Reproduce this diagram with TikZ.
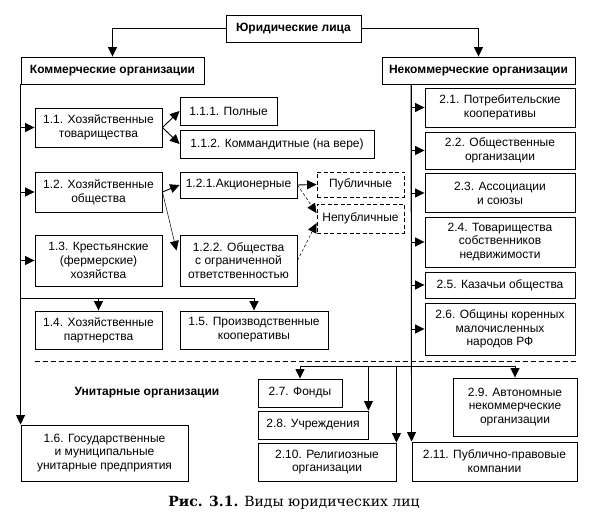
\documentclass[tikz,border=0pt]{standalone}
\usepackage{fontspec}
\setmainfont{Liberation Sans}
\newfontfamily\capfont{DejaVu Serif}
\usepgflibrary{arrows.meta}

\begin{document}
\begin{tikzpicture}[x=1pt,y=-1pt,line width=0.9pt,
  >={Triangle[length=9.5pt,width=9pt]},
  box/.style n args={2}{draw,align=center,inner sep=0pt,
    font=\fontsize{12}{13.8}\selectfont,minimum width=#1,minimum height=#2},
  head/.style n args={2}{box={#1}{#2},font=\bfseries\fontsize{12}{14}\selectfont},
  dbox/.style n args={2}{box={#1}{#2},dash pattern=on 4pt off 2.5pt},
  fine arrow/.style={->,line width=0.5pt},
  dash arrow/.style={->,line width=0.5pt,dash pattern=on 3pt off 2pt}]

\useasboundingbox (0,0) rectangle (595,526);

% top level
\node[head={135}{27}] (jur) at (293.5,28.5) {Юридические лица};
\node[head={183}{27}] (kom) at (112.5,70.5) {Коммерческие организации};
\node[head={193}{27}] (nekom) at (478.5,70.5) {Некоммерческие организации};
\draw[->] (jur.west) -| (kom.north);
\draw[->] (jur.east) -| (nekom.north);

% commercial
\foreach \nm/\cy/\h/\txt in {n11/127.5/39/{1.1. Хозяйственные\\товарищества},
  n12/192/40/{1.2. Хозяйственные\\общества},
  n13/260.5/51/{1.3. Крестьянские\\(фермерские)\\хозяйства}}{
  \node[box={127}{\h}] (\nm) at (98.5,\cy) {\txt};
  \draw[->] (kom.south west) |- (\nm.west);
}

\node[box={97}{28}] (n111) at (228.5,111) {1.1.1. Полные};
\node[box={194}{28}] (n112) at (277,144) {1.1.2. Коммандитные (на вере)};
\node[box={117}{26}] (n121) at (238.5,185) {1.2.1.Акционерные};
\node[box={117}{51}] (n122) at (238.5,260.5) {1.2.2. Общества\\с ограниченной\\ответственностью};
\node[dbox={87}{25}] (pub) at (360.5,184.5) {Публичные};
\node[dbox={87}{29}] (nepub) at (360.5,218.5) {Непубличные};

\draw[->] (n11.east) -- (n111.west);
\draw[->] (n11.east) -- (n112.west);
\draw[->] (n12.east) -- (n121.west);
\draw[fine arrow] (n12.east) -- ([shift={(-3,-10)}]n122.west);
\draw[->] (n121.east) -- (pub.west);
\draw[dash arrow] (n121.east) -- (nepub.173);
\draw[dash arrow] (n122.east) -- (nepub.186);

\node[box={127}{38}] (n14) at (98.5,330) {1.4. Хозяйственные\\партнерства};
\node[box={148}{38}] (n15) at (254,330) {1.5. Производственные\\кооперативы};
\coordinate (bar) at (kom.south west |- 0,298);
\draw[->] (bar) -| (n14.north);
\draw[->] (bar) -| (n15.north);

\node[box={167}{56}] (n16) at (104.5,453) {1.6. Государственные\\и муниципальные\\унитарные предприятия};
\draw[->] (kom.south west) -- (n16.north west);

% noncommercial
\coordinate (rtop) at (411,84);
\foreach \nm/\cy/\h/\txt in {n21/107.5/39/{2.1. Потребительские\\кооперативы},
  n22/150.5/37/{2.2. Общественные\\организации},
  n23/193/39/{2.3. Ассоциации\\и союзы},
  n24/242/50/{2.4. Товарищества\\собственников\\недвижимости},
  n25/285/26/{2.5. Казачьи общества},
  n26/329/52/{2.6. Общины коренных\\малочисленных\\народов РФ}}{
  \node[box={150}{\h}] (\nm) at (500,\cy) {\txt};
  \draw[->] (rtop) |- (\nm.west);
}

% unitary / bottom row
\draw[dash pattern=on 5pt off 3pt] (35,361) -- (577,361);
\node[font=\bfseries\fontsize{12}{14}\selectfont] (unit) at (147,393) {Унитарные организации};
\node[box={84}{28}] (n27) at (300,393) {2.7. Фонды};
\node[box={110}{28}] (n28) at (313,425) {2.8. Учреждения};
\node[box={138}{38}] (n210) at (327,462) {2.10. Религиозные\\организации};
\node[box={124}{58}] (n29) at (515,407) {2.9. Автономные\\некоммерческие\\организации};
\node[box={165}{39}] (n211) at (494.5,461.5) {2.11. Публично-правовые\\компании};

\coordinate (ubl) at (n27.north |- 0,366);
\coordinate (ubr) at (n29.north |- 0,366);
\draw (ubl) -- (ubr);
\draw[->] (ubl) -- (n27.north);
\draw[->] (ubl -| n28.north east) -- (n28.north east);
\draw[->] (ubl -| n210.north east) -- (n210.north east);
\draw[->] (ubr) -- (n29.north);
\draw[->] (rtop) -- (n211.north west);

\node[font=\capfont\fontsize{14}{16}\selectfont] (cap) at (294,503) {\textbf{Рис. 3.1.} Виды юридических лиц};
\end{tikzpicture}
\end{document}
